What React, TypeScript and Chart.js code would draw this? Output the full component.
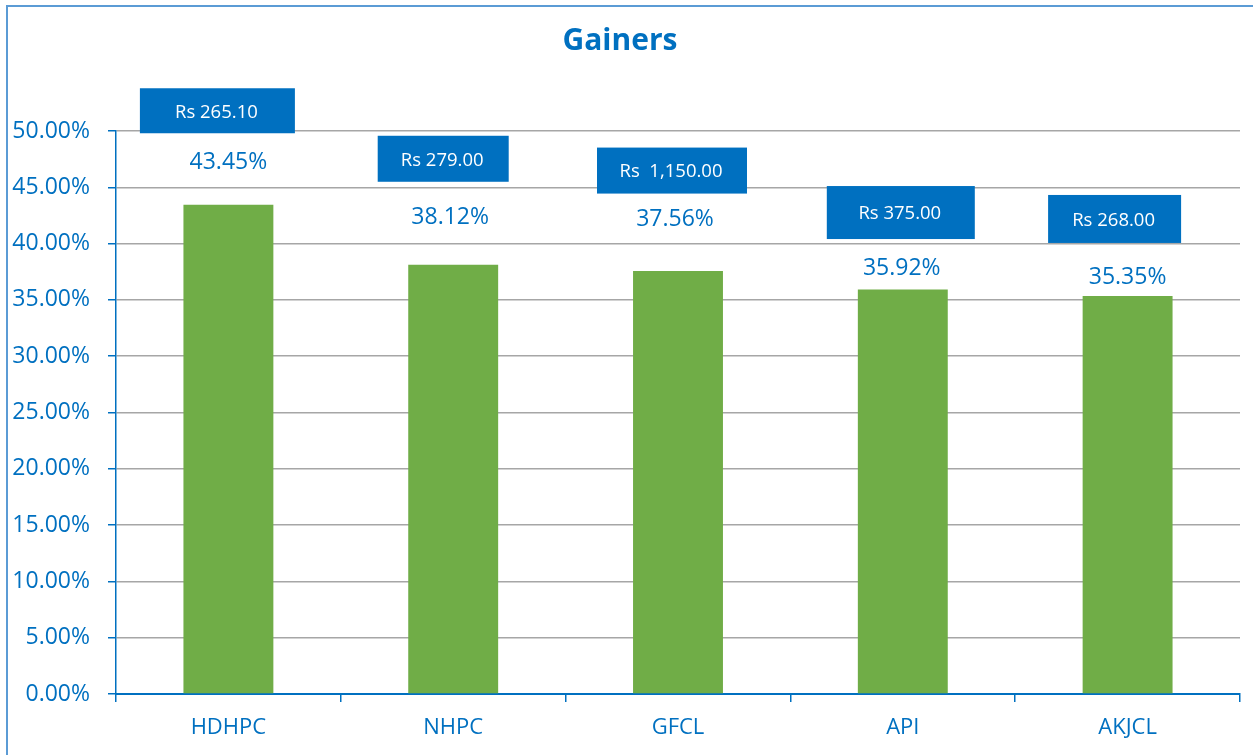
import React, { useEffect, useRef } from "react";
import { Chart, registerables } from "chart.js";

Chart.register(...registerables);

const categories = ["HDHPC", "NHPC", "GFCL", "API", "AKJCL"];
const gainPercent = [43.45, 38.12, 37.56, 35.92, 35.35];
const priceLabels = ["Rs 265.10", "Rs 279.00", "Rs  1,150.00", "Rs 375.00", "Rs 268.00"];
const yTicks = [0, 5, 10, 15, 20, 25, 30, 35, 40, 45, 50];

const BLUE = "#0070c0";
const FONT = "'Open Sans', 'Noto Sans', sans-serif";

// pixel offsets of the manually placed labels relative to each bar top (style)
const pctLabelOffsets = [
  [0, -42.5],
  [-3, -47.5],
  [-3, -52],
  [-1, -21.5],
  [0, -19],
];
const boxLabelOffsets = [
  [-11, -94, 155, 45],
  [-10, -106, 131, 46],
  [-6, -100.5, 150, 46],
  [-2, -77, 148, 53],
  [-13, -77, 133, 48],
];

const frameAndLabels = {
  id: "frameAndLabels",
  beforeDraw(chart: any) {
    const ctx = chart.ctx;
    ctx.save();
    ctx.fillStyle = "#ffffff";
    ctx.fillRect(0, 0, chart.width, chart.height);
    ctx.strokeStyle = "#5b9bd5";
    ctx.lineWidth = 2;
    ctx.beginPath();
    ctx.moveTo(7, chart.height + 5);
    ctx.lineTo(7, 6);
    ctx.lineTo(chart.width + 5, 6);
    ctx.stroke();
    ctx.restore();
  },
  afterDatasetsDraw(chart: any) {
    const ctx = chart.ctx;
    const meta = chart.getDatasetMeta(0);
    ctx.save();
    meta.data.forEach((bar: any, i: number) => {
      const v = chart.data.datasets[0].data[i] as number;
      const [pdx, pdy] = pctLabelOffsets[i];
      ctx.font = `23px ${FONT}`;
      ctx.fillStyle = BLUE;
      ctx.textAlign = "center";
      ctx.textBaseline = "middle";
      ctx.fillText(v.toFixed(2) + "%", bar.x + pdx, bar.y + pdy);

      const [bdx, bdy, bw, bh] = boxLabelOffsets[i];
      const cx = bar.x + bdx;
      const cy = bar.y + bdy;
      ctx.fillStyle = BLUE;
      ctx.fillRect(cx - bw / 2, cy - bh / 2, bw, bh);
      ctx.fillStyle = "#ffffff";
      ctx.font = `18.5px ${FONT}`;
      ctx.fillText(priceLabels[i], cx - 1, cy + 1.5);
    });
    ctx.restore();
  },
};

export default function App() {
  const ref = useRef<HTMLCanvasElement>(null);

  useEffect(() => {
    if (!ref.current) return;
    const chart = new Chart(ref.current, {
      type: "bar",
      data: {
        labels: categories,
        datasets: [
          {
            label: "Gain",
            data: gainPercent,
            backgroundColor: "#70ad47",
            borderWidth: 0,
            barPercentage: 0.4,
            categoryPercentage: 1,
          },
        ],
      },
      options: {
        responsive: false,
        animation: false,
        devicePixelRatio: 1,
        layout: { padding: { left: 0, right: 13, top: 0, bottom: 0 } },
        plugins: {
          legend: { display: false },
          tooltip: { enabled: false },
          title: {
            display: true,
            text: "Gainers",
            color: BLUE,
            font: { family: FONT, size: 30, weight: "bold", lineHeight: 1.2 },
            padding: { top: 23, bottom: 72 },
          },
        },
        scales: {
          x: {
            grid: {
              display: true,
              offset: true,
              drawOnChartArea: false,
              drawTicks: true,
              tickLength: 8,
              tickColor: BLUE,
              lineWidth: 1.5,
            },
            border: { display: true, color: BLUE, width: 2 },
            ticks: {
              color: BLUE,
              font: { family: FONT, size: 22 },
              padding: 13,
            },
            afterFit(scale: any) {
              scale.height = 61;
            },
          },
          y: {
            min: 0,
            max: 50,
            afterBuildTicks(scale: any) {
              scale.ticks = yTicks.map((v) => ({ value: v }));
            },
            grid: {
              color: "#a6a6a6",
              lineWidth: 1.5,
              tickLength: 8,
              tickColor: BLUE,
            },
            border: { display: true, color: BLUE, width: 1.5 },
            ticks: {
              color: BLUE,
              font: { family: FONT, size: 23 },
              padding: 18,
              callback: (v: any) => Number(v).toFixed(2) + "%",
            },
            afterFit(scale: any) {
              scale.width = 116;
            },
          },
        },
      },
      plugins: [frameAndLabels],
    });
    return () => chart.destroy();
  }, []);

  return (
    <div style={{ position: "fixed", left: 0, top: 0, width: 1253, height: 755 }}>
      <canvas ref={ref} width={1253} height={755} />
    </div>
  );
}
